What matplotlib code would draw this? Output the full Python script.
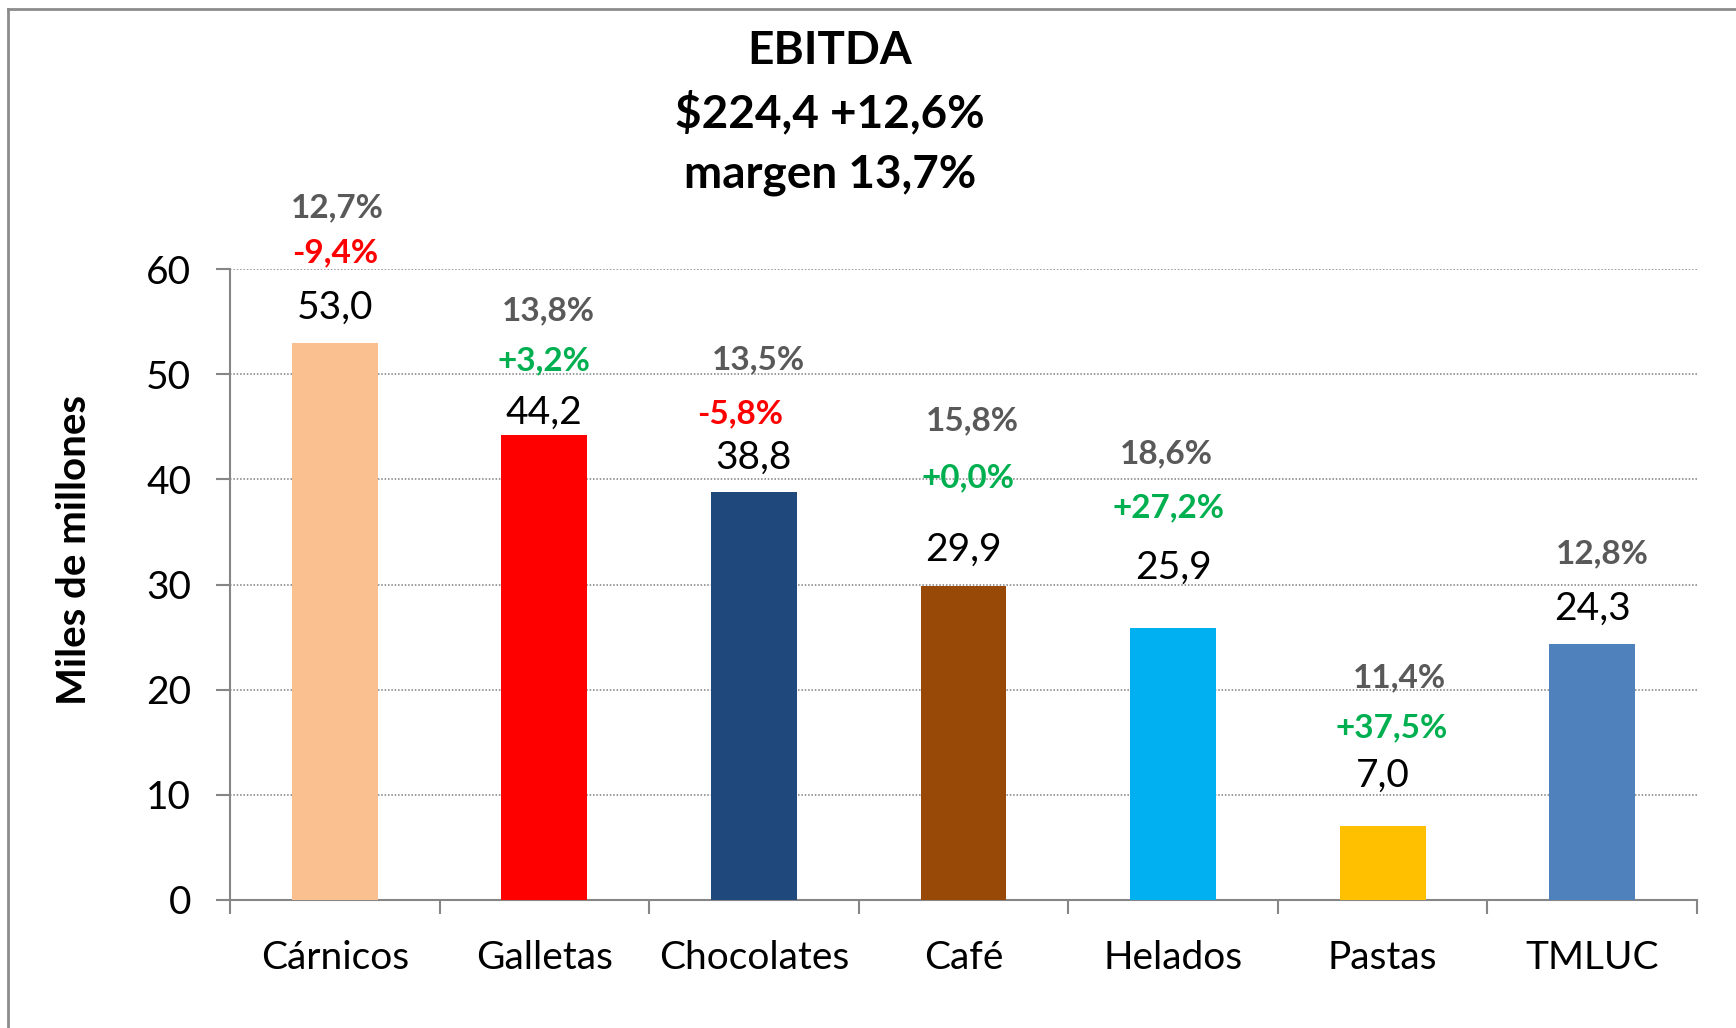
import matplotlib
matplotlib.use("Agg")
import matplotlib.pyplot as plt
from matplotlib.lines import Line2D
import numpy as np

plt.rcParams["font.family"] = ["Lato", "DejaVu Sans"]

categories = ["Cárnicos", "Galletas", "Chocolates", "Café", "Helados", "Pastas", "TMLUC"]
ebitda = [53.0, 44.2, 38.8, 29.9, 25.9, 7.0, 24.3]
margins = ["12,7%", "13,8%", "13,5%", "15,8%", "18,6%", "11,4%", "12,8%"]
changes = ["-9,4%", "+3,2%", "-5,8%", "+0,0%", "+27,2%", "+37,5%", None]
title_lines = ["EBITDA", "$224,4 +12,6%", "margen 13,7%"]

colors = ["#FAC090", "#FF0000", "#1F497D", "#984807", "#00B0F0", "#FFC000", "#4F81BD"]

# label placement (data y of each label centre, small x nudges in category units)
value_y = [56.3, 46.3, 42.1, 33.3, 31.6, 11.8, 27.7]
margin_y = [65.8, 56.0, 51.4, 45.6, 42.4, 21.1, 32.9]
change_y = [61.5, 51.3, 46.2, 40.1, 37.3, 16.4, None]
margin_dx = [0.01, 0.02, 0.02, 0.04, -0.03, 0.08, 0.05]
change_dx = [0.0, 0.0, -0.066, 0.02, -0.02, 0.042, 0.0]

fig = plt.figure(figsize=(17.36, 10.28), dpi=100)
ax = fig.add_axes([230 / 1736, 1 - 900 / 1028, (1697 - 230) / 1736, (900 - 269) / 1028])

x = np.arange(len(categories))
ax.bar(x, ebitda, width=0.41, color=colors, zorder=3)

ax.set_xlim(-0.5, len(categories) - 0.5)
ax.set_ylim(0, 60)
ax.set_yticks(range(0, 61, 10))
ax.yaxis.grid(True, linestyle=(0, (1, 1.2)), color="#7F7F7F", linewidth=1.1, zorder=0)
ax.set_axisbelow(True)

for s in ["top", "right"]:
    ax.spines[s].set_visible(False)
for s in ["left", "bottom"]:
    ax.spines[s].set_color("#868686")
    ax.spines[s].set_linewidth(1.5)

ax.set_xticks(x)
ax.set_xticklabels(categories, fontsize=28)
ax.tick_params(axis="x", length=0, pad=29)
ax.set_xticks(np.arange(-0.5, len(categories), 1.0), minor=True)
ax.tick_params(axis="x", which="minor", length=10, width=1.5, color="#868686")
ax.tick_params(axis="y", length=10, width=1.5, color="#868686", pad=18, labelsize=28)

fig.text(75 / 1736, 1 - 550 / 1028, "Miles de millones", rotation=90, ha="center", va="center",
         fontsize=29, fontweight="bold")

for i in range(len(categories)):
    ax.text(x[i], value_y[i], f"{ebitda[i]:.1f}".replace(".", ","), ha="center", va="center",
            fontsize=28, color="black")
    ax.text(x[i] + margin_dx[i], margin_y[i], margins[i], ha="center", va="center",
            fontsize=24, fontweight="bold", color="#595959", clip_on=False)
    if changes[i] is not None:
        col = "#FF0000" if changes[i].startswith("-") else "#00B050"
        ax.text(x[i] + change_dx[i], change_y[i], changes[i], ha="center", va="center",
                fontsize=24, fontweight="bold", color=col, clip_on=False)

for k, line in enumerate(title_lines):
    fig.text(830 / 1736, 1 - (51 + 62 * k) / 1028, line, ha="center", va="center",
             fontsize=33, fontweight="bold")

# outer frame (left and top edges visible)
fig.add_artist(Line2D([8 / 1736, 8 / 1736], [0, 1 - 9 / 1028], transform=fig.transFigure,
                      color="#8C8C8C", linewidth=2))
fig.add_artist(Line2D([8 / 1736, 1], [1 - 9 / 1028, 1 - 9 / 1028], transform=fig.transFigure,
                      color="#8C8C8C", linewidth=2))

fig.savefig("out.png", dpi=100)
